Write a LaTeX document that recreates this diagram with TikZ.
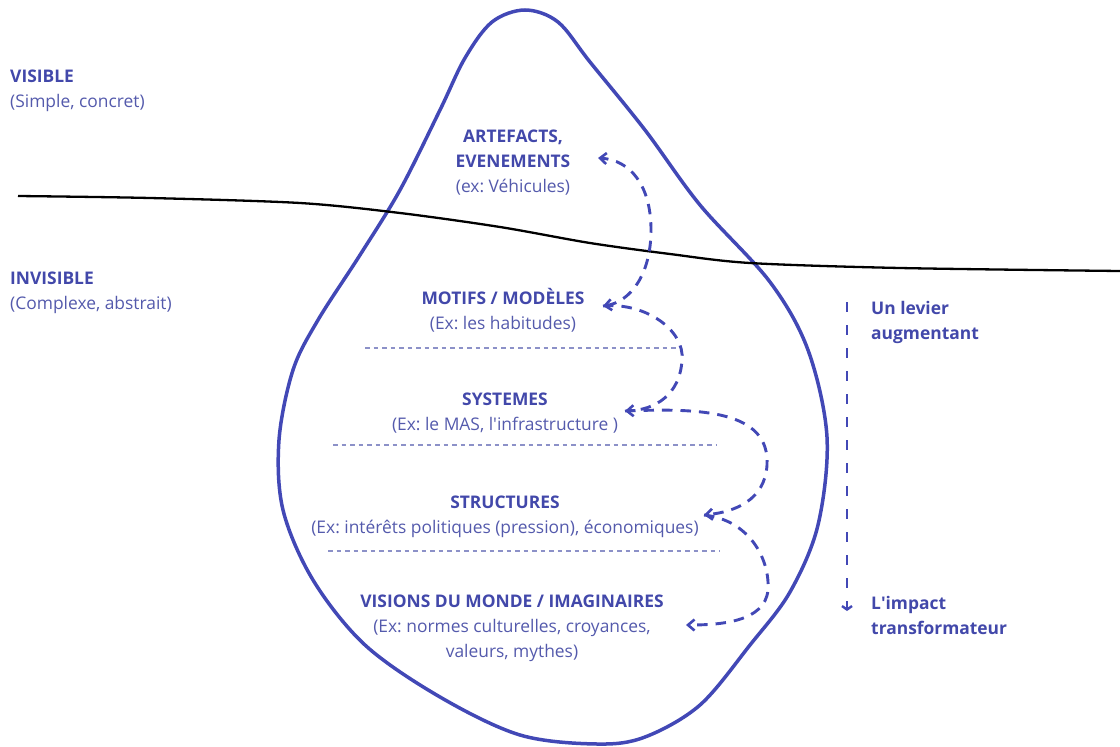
\documentclass[tikz,border=0pt]{standalone}
\usepackage{fontspec}
\setmainfont{Open Sans}
\usetikzlibrary{arrows.meta}
\definecolor{dropblue}{RGB}{66,72,182}
\definecolor{headblue}{RGB}{66,72,170}
\definecolor{subblue}{RGB}{84,90,172}
\definecolor{sepblue}{RGB}{140,145,200}
\tikzset{
  blocktxt/.style={font=\fontsize{17.4}{25}\selectfont, text=subblue, align=center, inner sep=0pt},
  sidetxt/.style={font=\fontsize{17.4}{25}\selectfont, text=subblue, align=left, inner sep=0pt, anchor=west},
  sidehead/.style={sidetxt, font=\fontsize{17.4}{25}\selectfont\bfseries, text=headblue},
  sep/.style={draw=sepblue, line width=1.1pt, dash pattern=on 4.5pt off 4pt},
  barb/.tip={Straight Barb[length=6.5pt,width=11pt,line width=2.6pt]},
  flow/.style={draw=dropblue, line width=2.9pt, dash pattern=on 10.5pt off 8pt, line cap=butt, -barb},
}
\newcommand{\hd}[1]{{\bfseries\color{headblue}#1}}
\begin{document}
\begin{tikzpicture}[x=1pt,y=-1pt]
\frenchspacing
\useasboundingbox (0,0) rectangle (1120,747);
% drop outline
\draw[dropblue, line width=3.5pt] plot[smooth cycle, tension=0.55] coordinates {
 (525,10) (558,22) (590,62) (645,130) (700,205) (770,282) (808,350) (827,437)
 (818,525) (790,592) (750,645) (700,705) (645,737) (597,744) (520,735) (440,697)
 (365,645) (313,580) (283,510) (279,440) (293,370) (318,320) (360,255) (400,190)
 (440,110) (465,58) (492,22)};
% horizon
\draw[black, line width=2.3pt] plot[smooth, tension=0.5] coordinates {
 (18,196) (150,198) (300,203) (400,213) (500,227) (590,243) (670,254) (750,263) (900,268) (1120,271)};
% separators
\coordinate (s1a) at (365,348); \coordinate (s1b) at (680,348);
\coordinate (s2a) at (333,445); \coordinate (s2b) at (716,445);
\coordinate (s3a) at (328,551); \coordinate (s3b) at (720,551);
\draw[sep] (s1a) -- (s1b);
\draw[sep] (s2a) -- (s2b);
\draw[sep] (s3a) -- (s3b);
% left labels
\node[sidetxt] (vis) at (10,91) {\hd{VISIBLE}\\(Simple, concret)};
\node[sidetxt] (invis) at (10,293) {\hd{INVISIBLE}\\(Complexe, abstrait)};
% block labels
\node[blocktxt] (art) at (513,163) {\hd{ARTEFACTS,}\\\hd{EVENEMENTS}\\(ex: Véhicules)};
\node[blocktxt] (mot) at (503,310) {\hd{MOTIFS / MODÈLES}\\(Ex: les habitudes)};
\node[blocktxt] (sys) at (505,413) {\hd{SYSTEMES}\\(Ex: le MAS, l\textquotesingle infrastructure )};
\node[blocktxt] (str) at (505,517) {\hd{STRUCTURES}\\(Ex: intérêts politiques (pression), économiques)};
\node[blocktxt] (vision) at (512,628) {\hd{VISIONS DU MONDE / IMAGINAIRES}\\(Ex: normes culturelles, croyances,\\valeurs, mythes)};
% right labels
\node[sidehead] (lev) at (871,322) {Un levier\\augmentant};
\node[sidehead] (imp) at (871,615) {L\textquotesingle impact\\transformateur};
% flow arrow tips
\coordinate (a1) at (598,158);
\coordinate (a2) at (603,306);
\coordinate (a3) at (625,411);
\coordinate (a4) at (704,515);
\coordinate (a5) at (686,625);
\draw[flow, barb-barb] (a2) .. controls (630,302) and (651,275) .. (651,230) .. controls (651,185) and (630,160) .. (a1);
\draw[flow] (a2) .. controls (645,302) and (685,330) .. (682,360) .. controls (680,395) and (655,410) .. (a3);
\draw[flow] (a3) .. controls (700,408) and (770,410) .. (767,465) .. controls (765,500) and (735,512) .. (a4);
\draw[flow] (a4) .. controls (750,520) and (770,560) .. (768,590) .. controls (765,622) and (720,625) .. (a5);
% vertical lever arrow
\coordinate (v1) at (847,302);
\coordinate (v2) at (847,611);
\draw[dropblue, line width=2.8pt, dash pattern=on 10pt off 13pt,
  -{Straight Barb[length=3.5pt,width=10pt,line width=2.4pt]}] (v1) -- (v2);
\end{tikzpicture}
\end{document}
